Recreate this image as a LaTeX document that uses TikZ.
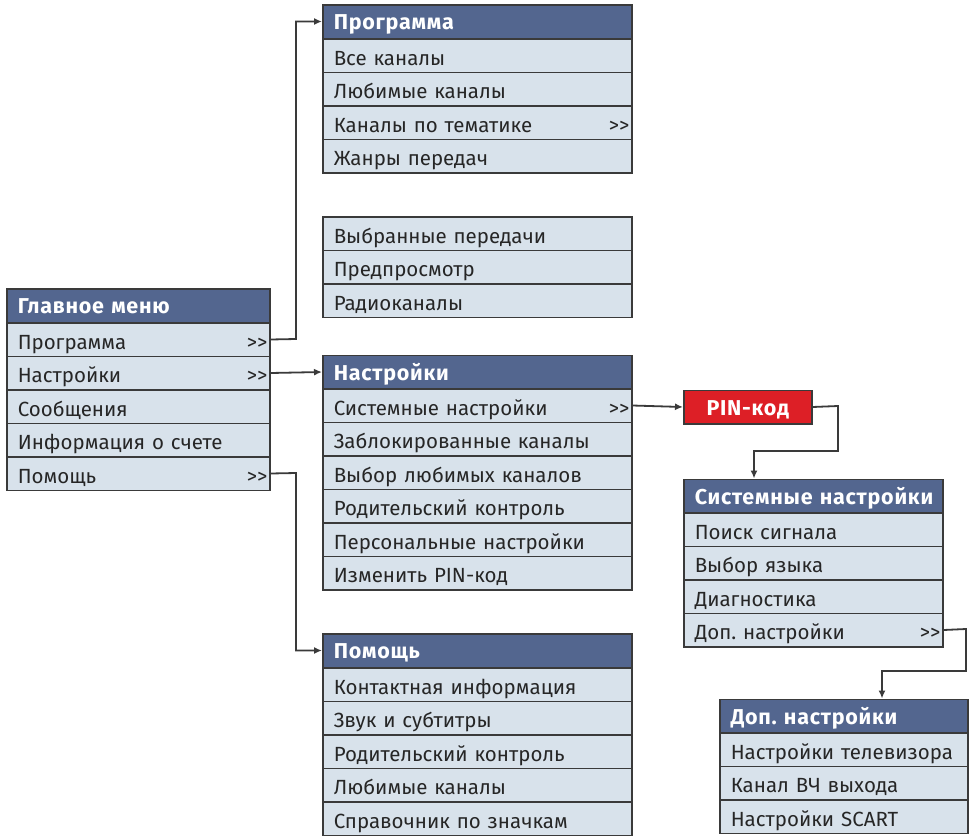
\documentclass[tikz,border=0pt]{standalone}
\usepackage{fontspec}
\setmainfont{Fira Sans}
\usetikzlibrary{arrows.meta}
\definecolor{hdr}{HTML}{53668F}
\definecolor{rowc}{HTML}{D8E2EB}
\definecolor{bord}{HTML}{3A3A3A}
\definecolor{pinred}{HTML}{DD1F26}
\newcommand\hdrfont{\fontsize{21.5}{22}\selectfont\bfseries\addfontfeatures{LetterSpace=3.5}}
\tikzset{
 cell/.style={draw=bord, line width=1.5pt, minimum height=33.5pt, inner xsep=11pt, inner ysep=0pt,
   text height=21pt, text depth=2pt, align=left, anchor=north west},
 rowbox/.style={cell, fill=rowc, text=black!85, font=\fontsize{20.5}{22}\selectfont},
 hdrbox/.style={cell, fill=hdr, text=white, text height=18pt, font=\hdrfont},
 more/.style={label={[anchor=east, inner xsep=3pt, text=black!85, text height=21pt, text depth=2pt, inner ysep=0pt, font=\fontsize{20.5}{22}\selectfont]east:{>\kern0pt>}}},
 wmain/.style={text width=241pt},
 wmid/.style={text width=287pt},
 wsys/.style={text width=237pt},
 wdop/.style={text width=226pt},
 conn/.style={draw=bord, line width=1.8pt, -{Latex[length=8pt,width=7pt]}},
}
\begin{document}
\frenchspacing
\begin{tikzpicture}[x=1pt,y=-1pt]
\useasboundingbox[fill=white] (0,0) rectangle (971,835);
% Main menu
\node[hdrbox,wmain] (mh) at (6,288) {Главное меню};
\node[rowbox,wmain,more] (m1) at (6,322) {Программа};
\node[rowbox,wmain,more] (m2) at (6,355.5) {Настройки};
\node[rowbox,wmain] (m3) at (6,389) {Сообщения};
\node[rowbox,wmain] (m4) at (6,422.5) {Информация о счете};
\node[rowbox,wmain,more] (m5) at (6,456) {Помощь};
% Programma
\node[hdrbox,wmid] (ph) at (322,4) {Программа};
\node[rowbox,wmid] (p1) at (322,38) {Все каналы};
\node[rowbox,wmid] (p2) at (322,71.5) {Любимые каналы};
\node[rowbox,wmid,more] (p3) at (322,105) {Каналы по тематике};
\node[rowbox,wmid] (p4) at (322,138.5) {Жанры передач};
% Second block
\node[rowbox,wmid] (q1) at (322,216) {Выбранные передачи};
\node[rowbox,wmid] (q2) at (322,249.5) {Предпросмотр};
\node[rowbox,wmid] (q3) at (322,283) {Радиоканалы};
% Nastroiki
\node[hdrbox,wmid] (nh) at (322,354.5) {Настройки};
\node[rowbox,wmid,more] (n1) at (322,388) {Системные настройки};
\node[rowbox,wmid] (n2) at (322,421.5) {Заблокированные каналы};
\node[rowbox,wmid] (n3) at (322,455) {Выбор любимых каналов};
\node[rowbox,wmid] (n4) at (322,488.5) {Родительский контроль};
\node[rowbox,wmid] (n5) at (322,522) {Персональные настройки};
\node[rowbox,wmid] (n6) at (322,555.5) {Изменить PIN-код};
% Pomosh
\node[hdrbox,wmid] (hh) at (322,633) {Помощь};
\node[rowbox,wmid] (h1) at (322,667) {Контактная информация};
\node[rowbox,wmid] (h2) at (322,700.5) {Звук и субтитры};
\node[rowbox,wmid] (h3) at (322,734) {Родительский контроль};
\node[rowbox,wmid] (h4) at (322,767.5) {Любимые каналы};
\node[rowbox,wmid] (h5) at (322,801) {Справочник по значкам};
% PIN
\node[cell, fill=pinred, text=white, text height=18pt, font=\hdrfont, minimum width=128pt, align=center] (pin) at (683,389.5) {PIN-код};
% Sistemnye
\node[hdrbox,wsys] (sh) at (683,478.5) {\mbox{Системные настройки}};
\node[rowbox,wsys] (s1) at (683,512) {Поиск сигнала};
\node[rowbox,wsys] (s2) at (683,545.5) {Выбор языка};
\node[rowbox,wsys] (s3) at (683,579) {Диагностика};
\node[rowbox,wsys,more] (s4) at (683,612.5) {Доп. настройки};
% Dop
\node[hdrbox,wdop] (dh) at (719,698.5) {Доп. настройки};
\node[rowbox,wdop] (d1) at (719,732) {Настройки телевизора};
\node[rowbox,wdop] (d2) at (719,765.5) {Канал ВЧ выхода};
\node[rowbox,wdop] (d3) at (719,799) {Настройки SCART};
% connectors
\draw[conn] (m1.east) -- (296,339) |- (ph.west);
\draw[conn] (m2.east) -- (nh.west);
\draw[conn] (m5.east) -- (296,473) |- (hh.west);
\draw[conn] (n1.east) -- (pin.west);
\draw[conn] (pin.east) -- (838,406) -- (838,451) -- (754,451) -- (754,478.5);
\coordinate (sd) at (882,698.5);
\draw[conn] (s4.east) -- (966,629) -- (966,671) -- (882,671) -- (sd);
\end{tikzpicture}
\end{document}
